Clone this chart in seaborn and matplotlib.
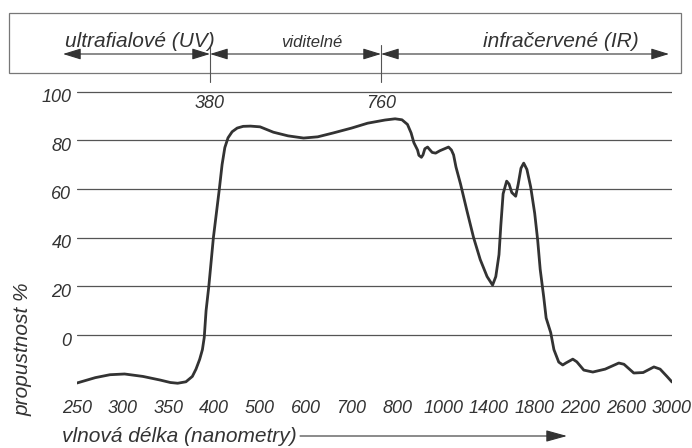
import numpy as np
import pandas as pd
import matplotlib
matplotlib.use("Agg")
import matplotlib.pyplot as plt
import matplotlib.transforms as mtransforms
from matplotlib.patches import Rectangle, FancyArrowPatch, ArrowStyle
import seaborn as sns

sns.set_theme(style="white")
plt.rcParams["font.family"] = ["Liberation Sans", "DejaVu Sans"]
plt.rcParams["font.style"] = "italic"

# data
tick_labels = [250, 300, 350, 400, 500, 600, 700, 800, 1000, 1400, 1800, 2200, 2600, 3000]
wavelength = [250, 270, 286, 302, 322, 341, 352, 360, 369, 376, 380, 384, 387, 389,
              391, 394, 399, 411, 417, 423, 430, 439, 450, 463, 479, 500, 529, 561,
              595, 626, 660, 700, 735, 773, 795, 820, 844, 860, 872, 888, 894, 905,
              912, 920, 932, 938, 952, 967, 986, 1047, 1072, 1091, 1112, 1152, 1208,
              1266, 1324, 1384, 1432, 1460, 1488, 1504, 1524, 1555, 1576, 1600, 1634,
              1656, 1680, 1704, 1732, 1765, 1800, 1826, 1848, 1879, 1900, 1940, 1968,
              2010, 2045, 2072, 2133, 2168, 2229, 2308, 2416, 2535, 2580, 2666, 2748,
              2842, 2896, 2956, 3000]
transmission = [-19.7, -17.5, -16.3, -16, -17, -18.5, -19.5, -19.8, -19.2, -17, -14,
                -10, -6, -1, 10, 20, 40, 60, 70, 77, 81, 83.5, 85, 85.7, 85.8, 85.5,
                83.3, 81.8, 80.9, 81.4, 83, 85, 87, 88.3, 88.8, 88.4, 86.5, 83, 79, 76,
                73.8, 73, 74, 76.5, 77.2, 76.5, 75, 74.7, 75.7, 77.2, 76, 74, 69, 62,
                51, 40, 31, 24, 20.5, 24, 33, 45, 58, 63.2, 62, 58.5, 57, 62, 68.5,
                70.6, 68, 60.8, 50, 39, 27, 15.6, 7, 1, -6, -11.1, -12.3, -11.5, -9.9,
                -11, -14.4, -15.2, -14, -11.5, -12, -15.6, -15.4, -13.1, -14, -17, -19.3]
y_ticks = [0, 20, 40, 60, 80, 100]
bands = ["ultrafialové (UV)", "viditelné", "infračervené (IR)"]
limits = ["380", "760"]

ink = "#333333"
W, H = 692, 448

df = pd.DataFrame({"wl": wavelength, "t": transmission})
# x axis is categorical-like: evenly spaced ticks with uneven values
df["pos"] = np.interp(df["wl"], tick_labels, np.arange(len(tick_labels)))

fig = plt.figure(figsize=(W / 100, H / 100), dpi=100)
ax = fig.add_axes([77 / W, 1 - 388.6 / H, 595 / W, (388.6 - 89.1) / H])
sns.lineplot(data=df, x="pos", y="t", color=ink, lw=2.0, ax=ax, sort=False,
             solid_joinstyle="round", solid_capstyle="round")
ax.set_xlim(0, 13)
ax.set_ylim(-22, 101)
ax.set_xticks(range(len(tick_labels)))
ax.set_xticklabels(tick_labels)
ax.set_yticks(y_ticks)
ax.yaxis.grid(True, color="#555555", lw=0.9)
ax.xaxis.grid(False)
for s in ax.spines.values():
    s.set_visible(False)
ax.tick_params(axis="both", length=0, labelsize=13, colors=ink)
ax.tick_params(axis="x", pad=8)
ax.tick_params(axis="y", pad=4)
ax.set_xlabel("")
ax.set_ylabel("")
off = mtransforms.ScaledTranslation(0, -4 / 100, fig.dpi_scale_trans)
for lab in ax.get_yticklabels():
    lab.set_transform(lab.get_transform() + off)

# overlay in pixel coordinates for the band box and labels
ov = fig.add_axes([0, 0, 1, 1])
ov.set_xlim(0, W)
ov.set_ylim(H, 0)
ov.axis("off")

ov.add_patch(Rectangle((9, 13), 672, 60, fill=False, ec="#777777", lw=0.9))
ov.plot([210, 210], [46, 82], color="#555555", lw=0.8)
ov.plot([381, 381], [45, 82], color="#555555", lw=0.8)

both = ArrowStyle("<|-|>", head_length=0.55, head_width=0.17)
for a, b in [(63, 210), (210, 381), (381, 669)]:
    ov.add_patch(FancyArrowPatch((a, 54), (b, 54), arrowstyle=both, mutation_scale=20,
                                 color=ink, lw=0.8, shrinkA=0, shrinkB=0))

ov.text(65, 47, bands[0], ha="left", va="baseline", fontsize=15, color=ink)
ov.text(312, 47, bands[1], ha="center", va="baseline", fontsize=12, color=ink)
ov.text(483, 47, bands[2], ha="left", va="baseline", fontsize=15, color=ink)
ov.text(210, 103, limits[0], ha="center", va="center", fontsize=13, color=ink)
ov.text(381, 103, limits[1], ha="center", va="center", fontsize=13, color=ink)

ov.text(23, 349, "propustnost %", rotation=90, ha="center", va="center",
        fontsize=15, color=ink)
ov.text(62, 442, "vlnová délka (nanometry)", ha="left", va="baseline",
        fontsize=15, color=ink)
one = ArrowStyle("-|>", head_length=0.65, head_width=0.18)
ov.add_patch(FancyArrowPatch((300, 436), (567, 436), arrowstyle=one, mutation_scale=20,
                             color=ink, lw=0.8, shrinkA=0, shrinkB=0))

fig.savefig("out.png", dpi=100)
